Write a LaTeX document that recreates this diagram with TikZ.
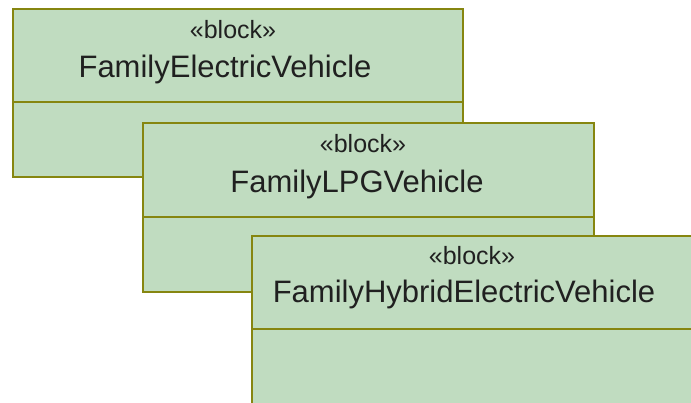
\documentclass[tikz,border=0pt]{standalone}
\usepackage{fontspec}
\setmainfont{Liberation Sans}
\definecolor{blkfill}{HTML}{C0DCC0}
\definecolor{blkline}{HTML}{868610}
\definecolor{txt}{HTML}{202020}
\begin{document}
\begin{tikzpicture}[x=1pt,y=-1pt,
  blockbox/.style={draw=blkline,fill=blkfill,line width=2pt},
  divider/.style={draw=blkline,line width=2pt},
  stereo/.style={anchor=base,inner sep=0pt,text=txt,font=\fontsize{25}{28}\selectfont},
  bname/.style={anchor=base,inner sep=0pt,text=txt,font=\fontsize{31}{35}\selectfont}]
\useasboundingbox (0,0) rectangle (691,403);
\clip (0,0) rectangle (691,403);
% block 1
\path[blockbox] (13,9) rectangle (463,177);
\draw[divider] (13,102) -- (463,102);
\node[stereo] (s1) at (233,39) {«block»};
\node[bname] (n1) at (225,78) {FamilyElectricVehicle};
% block 2
\path[blockbox] (143,123) rectangle (594,292);
\draw[divider] (143,217) -- (594,217);
\node[stereo] (s2) at (363,153) {«block»};
\node[bname] (n2) at (357,193) {FamilyLPGVehicle};
% block 3
\path[blockbox] (252,236) rectangle (710,420);
\draw[divider] (252,329) -- (710,329);
\node[stereo] (s3) at (472,265) {«block»};
\node[bname] (n3) at (464,303) {FamilyHybridElectricVehicle};
\end{tikzpicture}
\end{document}
